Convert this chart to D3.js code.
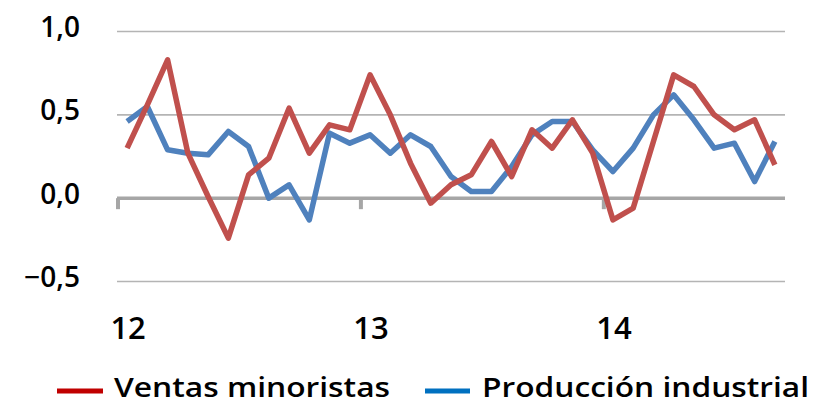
<!DOCTYPE html>
<html>
<head>
<meta charset="utf-8">
<script src="https://cdn.jsdelivr.net/npm/d3@7/dist/d3.min.js"></script>
<style>
  html, body { margin: 0; padding: 0; background: #fff; }
  svg { display: block; }
  text { font-family: "Open Sans", "Noto Sans", sans-serif; fill: #000; font-weight: 600; }
</style>
</head>
<body>
<svg id="chart" width="813" height="404"></svg>
<script>
// Monthly series, Jan 2012 – Sep 2014
const months = d3.range(33).map(i => ({ year: 12 + Math.floor(i / 12), month: i % 12 + 1 }));

const ventasMinoristas = [
  0.30, 0.56, 0.83, 0.27, 0.01, -0.24, 0.14, 0.24, 0.54, 0.27, 0.44, 0.41,
  0.74, 0.50, 0.21, -0.03, 0.08, 0.14, 0.34, 0.13, 0.41, 0.30, 0.47, 0.27,
  -0.13, -0.06, 0.34, 0.74, 0.67, 0.50, 0.41, 0.47, 0.20
];

const produccionIndustrial = [
  0.46, 0.55, 0.29, 0.27, 0.26, 0.40, 0.31, 0.00, 0.08, -0.13, 0.39, 0.33,
  0.38, 0.27, 0.38, 0.31, 0.13, 0.04, 0.04, 0.19, 0.38, 0.46, 0.46, 0.29,
  0.16, 0.30, 0.50, 0.62, 0.47, 0.30, 0.33, 0.10, 0.34
];

const yTicks = [-0.5, 0.0, 0.5, 1.0];
const xLabels = ["12", "13", "14"];
const seriesNames = ["Ventas minoristas", "Producción industrial"];

const lineColors = ["#C0504D", "#4F81BD"];
const legendColors = ["#C00000", "#0070C0"];

const svg = d3.select("#chart");

const x = d3.scaleBand()
  .domain(d3.range(months.length))
  .range([117, 785])
  .paddingInner(0).paddingOuter(0);

const y = d3.scaleLinear().domain([-0.5, 1.0]).range([281.5, 31.5]);

const fmt = v => (v < 0 ? "\u2212" : "") + Math.abs(v).toFixed(1).replace(".", ",");

// Horizontal gridlines
svg.append("g")
  .selectAll("line")
  .data(yTicks.filter(v => v !== 0))
  .join("line")
  .attr("x1", 117).attr("x2", 785)
  .attr("y1", d => y(d)).attr("y2", d => y(d))
  .attr("stroke", "#B4B4B4")
  .attr("stroke-width", 1.6);

// Y axis labels
const yAxis = d3.axisLeft(y).tickValues(yTicks).tickFormat(fmt).tickSize(0).tickPadding(0);
const yg = svg.append("g").attr("transform", "translate(80,-4)").call(yAxis);
yg.select(".domain").remove();
yg.selectAll("text")
  .attr("font-size", 28)
  .attr("font-family", "'Open Sans', sans-serif")
  .attr("font-weight", 600)
  .attr("fill", "#000");

// Zero baseline with year tick marks
const yearStarts = months.map((m, i) => i).filter(i => months[i].month === 1);
svg.append("line")
  .attr("x1", 117).attr("x2", 785)
  .attr("y1", y(0)).attr("y2", y(0))
  .attr("stroke", "#A6A6A6")
  .attr("stroke-width", 3.5);
svg.append("g")
  .selectAll("line")
  .data(yearStarts)
  .join("line")
  .attr("x1", d => x(d) + 1).attr("x2", d => x(d) + 1)
  .attr("y1", y(0)).attr("y2", y(0) + 11)
  .attr("stroke", "#A6A6A6")
  .attr("stroke-width", 4);

// Year labels under January points
svg.append("g")
  .selectAll("text")
  .data(yearStarts)
  .join("text")
  .attr("x", d => x(d) + x.bandwidth() / 2 + 1)
  .attr("y", 339)
  .attr("text-anchor", "middle")
  .attr("font-size", 31)
  .text((d, i) => xLabels[i]);

// Series lines
const line = d3.line()
  .x((d, i) => x(i) + x.bandwidth() / 2)
  .y(d => y(d));

[[produccionIndustrial, lineColors[1]], [ventasMinoristas, lineColors[0]]].forEach(([data, color]) => {
  svg.append("path")
    .datum(data)
    .attr("d", line)
    .attr("fill", "none")
    .attr("stroke", color)
    .attr("stroke-width", 5.5)
    .attr("stroke-linejoin", "round")
    .attr("stroke-linecap", "butt");
});

// Legend
const legendItems = [
  { name: seriesNames[0], color: legendColors[0], x1: 57, x2: 103, tx: 114, w: 276 },
  { name: seriesNames[1], color: legendColors[1], x1: 425, x2: 470, tx: 482, w: 327 }
];
const lg = svg.append("g");
legendItems.forEach(it => {
  lg.append("line")
    .attr("x1", it.x1).attr("x2", it.x2)
    .attr("y1", 391).attr("y2", 391)
    .attr("stroke", it.color)
    .attr("stroke-width", 5);
  lg.append("text")
    .attr("x", it.tx)
    .attr("y", 396.5)
    .attr("font-size", 27)
    .attr("textLength", it.w)
    .attr("lengthAdjust", "spacingAndGlyphs")
    .text(it.name);
});
</script>
</body>
</html>
